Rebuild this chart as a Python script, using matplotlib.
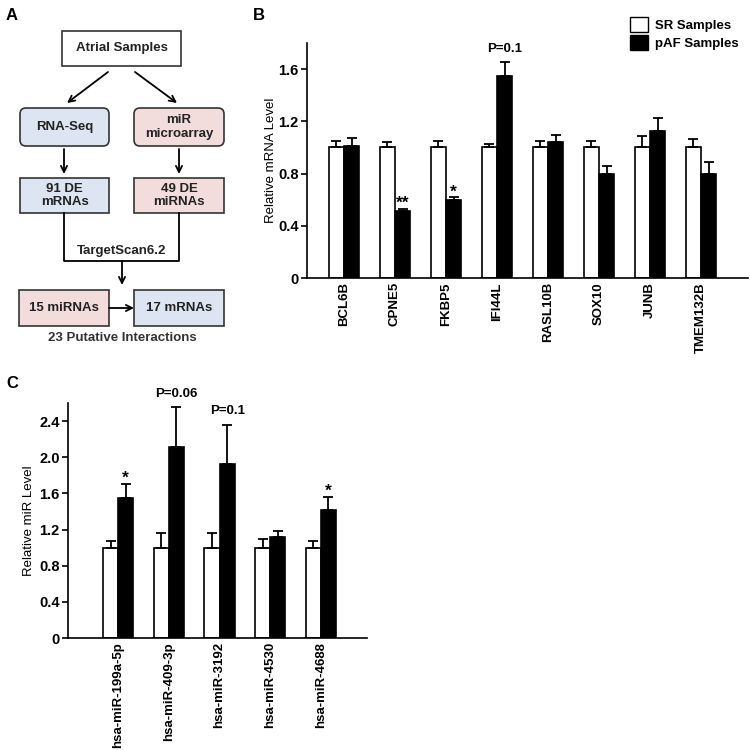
import matplotlib
matplotlib.use('Agg')
import matplotlib.pyplot as plt
from matplotlib.patches import FancyBboxPatch, Rectangle, Patch
import numpy as np

plt.rcParams['font.family'] = ['Liberation Sans', 'DejaVu Sans']

# panel B data
genes = ['BCL6B', 'CPNE5', 'FKBP5', 'IFI44L', 'RASL10B', 'SOX10', 'JUNB', 'TMEM132B']
sr_mrna = [1.0, 1.0, 1.0, 1.0, 1.0, 1.0, 1.0, 1.0]
sr_mrna_err = [0.046, 0.04, 0.046, 0.03, 0.048, 0.048, 0.09, 0.064]
paf_mrna = [1.008, 0.51, 0.60, 1.546, 1.04, 0.796, 1.123, 0.796]
paf_mrna_err = [0.062, 0.02, 0.02, 0.11, 0.055, 0.061, 0.102, 0.089]
mrna_marks = ['', '**', '*', 'P=0.1', '', '', '', '']

# panel C data
mirs = ['hsa-miR-199a-5p', 'hsa-miR-409-3p', 'hsa-miR-3192', 'hsa-miR-4530', 'hsa-miR-4688']
sr_mir = [1.0, 1.0, 1.0, 1.0, 1.0]
sr_mir_err = [0.076, 0.165, 0.165, 0.094, 0.076]
paf_mir = [1.553, 2.11, 1.93, 1.113, 1.42]
paf_mir_err = [0.155, 0.448, 0.432, 0.07, 0.144]
mir_marks = ['*', 'P=0.06', 'P=0.1', '', '*']


def bar_panel(ax, labels, sr, sr_err, paf, paf_err, marks, ylim, yticks, ylabel, xlim, lpad):
    x = np.arange(len(labels))
    w = 0.3
    ax.bar(x - w / 2, sr, w, color='white', edgecolor='black', linewidth=1.2, zorder=2)
    ax.bar(x + w / 2, paf, w, color='black', edgecolor='black', linewidth=1.2, zorder=2)
    ax.errorbar(x - w / 2, sr, yerr=[np.zeros(len(sr)), sr_err], fmt='none',
                ecolor='black', elinewidth=1.3, capsize=3.5, capthick=1.3, zorder=3)
    ax.errorbar(x + w / 2, paf, yerr=[np.zeros(len(paf)), paf_err], fmt='none',
                ecolor='black', elinewidth=1.3, capsize=3.5, capthick=1.3, zorder=3)
    for i, m in enumerate(marks):
        if m:
            top = paf[i] + paf_err[i]
            if m.startswith('P'):
                ax.text(x[i] + w / 2, top + 0.03 * ylim[1], m, ha='center', va='bottom',
                        fontsize=9.5, fontweight='bold')
            else:
                ax.text(x[i] + w / 2, top - 0.01 * ylim[1], m, ha='center', va='bottom',
                        fontsize=12.5, fontweight='bold')
    ax.set_xlim(*xlim)
    ax.set_ylim(*ylim)
    ax.set_yticks(yticks)
    ax.set_yticklabels(['0' if t == 0 else f'{t:.1f}' for t in yticks],
                       fontsize=10.5, fontweight='bold')
    ax.set_xticks(x)
    ax.set_xticklabels(labels, rotation=90, fontsize=9.5, fontweight='bold')
    ax.tick_params(axis='x', length=0, pad=3)
    ax.tick_params(axis='y', length=4, width=1.2, direction='out', pad=2)
    ax.set_ylabel(ylabel, fontsize=9.5, labelpad=lpad)
    for s in ['top', 'right']:
        ax.spines[s].set_visible(False)
    for s in ['left', 'bottom']:
        ax.spines[s].set_linewidth(1.2)


fig = plt.figure(figsize=(7.5, 7.5), dpi=100)

# panel A flowchart, drawn in pixel-like coordinates
axa = fig.add_axes([0, 1 - 380 / 750, 250 / 750, 380 / 750])
axa.set_xlim(0, 250)
axa.set_ylim(380, 0)
axa.axis('off')

blue = '#dce5f1'
pink = '#f2dcdc'
edge = '#333333'


def box(x0, y0, x1, y1, color, text, rounded=False):
    if rounded:
        p = FancyBboxPatch((x0, y0), x1 - x0, y1 - y0, boxstyle='round,pad=0,rounding_size=6',
                           facecolor=color, edgecolor=edge, linewidth=1.2)
    else:
        p = Rectangle((x0, y0), x1 - x0, y1 - y0, facecolor=color, edgecolor=edge, linewidth=1.2)
    axa.add_patch(p)
    axa.text((x0 + x1) / 2, (y0 + y1) / 2, text, ha='center', va='center',
             fontsize=9.5, fontweight='bold', color='#222222', linespacing=1.15)


def arrow(x0, y0, x1, y1):
    axa.annotate('', xy=(x1, y1), xytext=(x0, y0),
                 arrowprops=dict(arrowstyle='->', color='black', lw=1.3,
                                 shrinkA=0, shrinkB=0, mutation_scale=11))


box(62, 31, 181, 66, 'white', 'Atrial Samples')
box(20, 108, 109, 146, blue, 'RNA-Seq', rounded=True)
box(134, 108, 224, 146, pink, 'miR\nmicroarray', rounded=True)
box(20, 178, 109, 213, blue, '91 DE\nmRNAs')
box(134, 178, 224, 213, pink, '49 DE\nmiRNAs')
box(19, 290, 109, 326, pink, '15 miRNAs')
box(134, 290, 224, 326, blue, '17 mRNAs')

arrow(108, 72, 67, 103)
arrow(135, 72, 177, 103)
arrow(64, 149, 64, 174)
arrow(179, 149, 179, 174)
axa.plot([64, 64, 179, 179], [213, 261, 261, 213], color='black', lw=1.3)
arrow(122, 261, 122, 285)
arrow(109, 308, 134, 308)
axa.text(122, 251, 'TargetScan6.2', ha='center', va='center', fontsize=9.5,
         fontweight='bold', color='#222222')
axa.text(122, 338, '23 Putative Interactions', ha='center', va='center', fontsize=9.5,
         fontweight='bold', color='#333333')

# panel B
axb = fig.add_axes([307 / 750, 1 - 278 / 750, 441 / 750, 235 / 750])
bar_panel(axb, genes, sr_mrna, sr_mrna_err, paf_mrna, paf_mrna_err, mrna_marks,
          (0, 1.8), [0, 0.4, 0.8, 1.2, 1.6], 'Relative mRNA Level', (-0.725, 7.92), 1)
fig.legend(handles=[Patch(facecolor='white', edgecolor='black', linewidth=1.0, label='SR Samples'),
                    Patch(facecolor='black', edgecolor='black', label='pAF Samples')],
           loc='upper left', bbox_to_anchor=(618 / 750, 1 - 5 / 750), frameon=False,
           handlelength=1.4, handleheight=1.4, handletextpad=0.5, labelspacing=0.2,
           prop={'size': 9.5, 'weight': 'bold'})

# panel C
axc = fig.add_axes([68 / 750, 1 - 638 / 750, 299 / 750, 235 / 750])
bar_panel(axc, mirs, sr_mir, sr_mir_err, paf_mir, paf_mir_err, mir_marks,
          (0, 2.6), [0, 0.4, 0.8, 1.2, 1.6, 2.0, 2.4], 'Relative miR Level', (-0.99, 4.91), 3)

# panel letters
fig.text(6 / 750, 1 - 16 / 750, 'A', fontsize=12, fontweight='bold', va='center')
fig.text(253 / 750, 1 - 16 / 750, 'B', fontsize=12, fontweight='bold', va='center')
fig.text(6 / 750, 1 - 383 / 750, 'C', fontsize=12, fontweight='bold', va='center')

fig.savefig('out.png', dpi=100)
